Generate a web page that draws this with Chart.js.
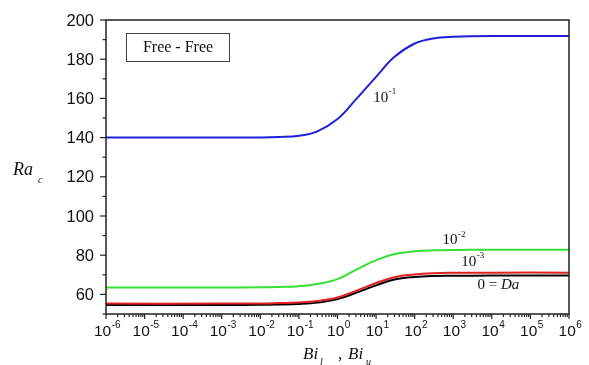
<!DOCTYPE html>
<html>
<head>
<meta charset="utf-8">
<script src="https://cdn.jsdelivr.net/npm/chart.js@4"></script>
<style>
  html, body { margin: 0; padding: 0; background: #ffffff; }
  canvas { display: block; }
</style>
</head>
<body>
<canvas id="chart" width="589" height="365"></canvas>
<script>
// Biot number samples (log-spaced) shared by every curve
const biValues = [1e-6, 1e-3, 1e-2, 0.03, 0.1, 0.3, 1, 3, 10, 30, 100, 300, 1e3, 1e4, 1e6];

// Critical Rayleigh number for each Darcy number
const raDa1e1 = [140.0, 140.0, 140.1, 140.3, 140.9, 143.2, 149.5, 159.5, 171.0, 181.2, 188.0, 190.6, 191.4, 191.8, 191.8];
const raDa1e2 = [63.5, 63.5, 63.6, 63.8, 64.2, 65.3, 67.8, 72.5, 77.5, 80.6, 82.0, 82.5, 82.7, 82.8, 82.8];
const raDa1e3 = [55.3, 55.3, 55.4, 55.6, 55.9, 56.6, 58.4, 61.8, 65.8, 68.8, 70.2, 70.8, 71.0, 71.1, 71.1];
const raDa0   = [54.6, 54.6, 54.7, 54.8, 55.1, 55.8, 57.6, 60.8, 64.6, 67.6, 68.9, 69.4, 69.5, 69.6, 69.6];

// Axis ticks
const xTickExponents = [-6, -5, -4, -3, -2, -1, 0, 1, 2, 3, 4, 5, 6];
const yTickLabels = [60, 80, 100, 120, 140, 160, 180, 200];
const yMinorTicks = [50, 70, 90, 110, 130, 150, 170, 190];

// Curve annotations: [Bi, Ra] anchor (left edge, vertical middle)
const curveNotes = [
  { base: '10', sup: '-1', at: [8.5, 160.4] },
  { base: '10', sup: '-2', at: [525, 87.6] },
  { base: '10', sup: '-3', at: [1620, 76.5] }
];
const zeroNote = { at: [4270, 64.6] };

const toPoints = ys => biValues.map((b, i) => ({ x: b, y: ys[i] }));

const SANS = '"Liberation Sans", Arial, sans-serif';
const SERIF = '"Liberation Serif", "Times New Roman", serif';

const decorations = {
  id: 'decorations',
  afterDatasetsDraw(chart) {
    const { ctx, chartArea: a, scales } = chart;
    const xs = scales.x, ys = scales.y;
    ctx.save();

    // frame
    ctx.strokeStyle = '#222';
    ctx.lineWidth = 1.5;
    ctx.strokeRect(a.left, a.top, a.right - a.left, a.bottom - a.top);

    // y ticks + labels
    ctx.lineWidth = 1.2;
    ctx.fillStyle = '#111';
    ctx.font = '16.5px ' + SANS;
    ctx.textAlign = 'right';
    ctx.textBaseline = 'middle';
    yTickLabels.forEach(v => {
      const y = ys.getPixelForValue(v);
      ctx.beginPath(); ctx.moveTo(a.left - 6, y); ctx.lineTo(a.left, y); ctx.stroke();
      ctx.fillText(String(v), a.left - 12, y + 1);
    });
    yMinorTicks.forEach(v => {
      const y = ys.getPixelForValue(v);
      ctx.beginPath(); ctx.moveTo(a.left - 3.5, y); ctx.lineTo(a.left, y); ctx.stroke();
    });

    // x ticks + labels
    xTickExponents.forEach(e => {
      const x = xs.getPixelForValue(Math.pow(10, e));
      ctx.beginPath(); ctx.moveTo(x, a.bottom); ctx.lineTo(x, a.bottom + 5); ctx.stroke();
      if (e < 6) {
        for (let k = 2; k <= 9; k++) {
          const xm = xs.getPixelForValue(k * Math.pow(10, e));
          ctx.beginPath(); ctx.moveTo(xm, a.bottom); ctx.lineTo(xm, a.bottom + 3); ctx.stroke();
        }
      }
      ctx.font = '15.5px ' + SANS;
      const wb = ctx.measureText('10').width;
      ctx.font = '10px ' + SANS;
      const sup = String(e);
      const ws = ctx.measureText(sup).width;
      const x0 = x - (wb + ws) / 2 + 1;
      ctx.textAlign = 'left';
      ctx.textBaseline = 'alphabetic';
      ctx.font = '15.5px ' + SANS;
      ctx.fillText('10', x0, a.bottom + 22);
      ctx.font = '10px ' + SANS;
      ctx.fillText(sup, x0 + wb + 0.5, a.bottom + 14);
    });

    // axis titles
    ctx.fillStyle = '#111';
    ctx.textAlign = 'left';
    ctx.textBaseline = 'alphabetic';
    ctx.font = 'italic 18px ' + SERIF;
    ctx.fillText('Ra', 13, 175);
    ctx.font = 'italic 10px ' + SERIF;
    ctx.fillText('c', 38, 183);

    ctx.font = 'italic 17px ' + SERIF;
    ctx.fillText('Bi', 303, 359);
    ctx.font = 'italic 10px ' + SERIF;
    ctx.fillText('l', 320, 365);
    ctx.font = '17px ' + SERIF;
    ctx.fillText(',', 338, 359);
    ctx.font = 'italic 17px ' + SERIF;
    ctx.fillText('Bi', 348, 359);
    ctx.font = 'italic 10px ' + SERIF;
    ctx.fillText('u', 366, 365);

    // boundary condition box
    ctx.strokeStyle = '#444';
    ctx.lineWidth = 1;
    ctx.strokeRect(126.5, 33.5, 103, 28);
    ctx.font = '16px ' + SERIF;
    ctx.textAlign = 'center';
    ctx.textBaseline = 'middle';
    ctx.fillText('Free - Free', 178, 48);

    // curve labels
    ctx.textAlign = 'left';
    ctx.textBaseline = 'middle';
    curveNotes.forEach(n => {
      const x = xs.getPixelForValue(n.at[0]);
      const y = ys.getPixelForValue(n.at[1]);
      ctx.font = '15px ' + SERIF;
      ctx.fillText(n.base, x, y);
      const w = ctx.measureText(n.base).width;
      ctx.font = '9px ' + SERIF;
      ctx.fillText(n.sup, x + w + 0.5, y - 6);
    });
    {
      const x = xs.getPixelForValue(zeroNote.at[0]);
      const y = ys.getPixelForValue(zeroNote.at[1]);
      ctx.font = '15px ' + SERIF;
      ctx.fillText('0 = ', x, y);
      const w = ctx.measureText('0 = ').width;
      ctx.font = 'italic 15px ' + SERIF;
      ctx.fillText('Da', x + w, y);
    }
    ctx.restore();
  }
};

const lineStyle = (color) => ({
  borderColor: color,
  backgroundColor: color,
  borderWidth: 2,
  pointRadius: 0,
  fill: false,
  tension: 0.4
});

new Chart(document.getElementById('chart'), {
  type: 'line',
  data: {
    datasets: [
      { label: 'Da = 10^-1', data: toPoints(raDa1e1), ...lineStyle('#2020d8') },
      { label: 'Da = 10^-2', data: toPoints(raDa1e2), ...lineStyle('#33e033') },
      { label: 'Da = 10^-3', data: toPoints(raDa1e3), ...lineStyle('#e02020') },
      { label: 'Da = 0', data: toPoints(raDa0), ...lineStyle('#000000') }
    ]
  },
  options: {
    responsive: false,
    animation: false,
    devicePixelRatio: 1,
    layout: { padding: { left: 106, right: 20, top: 20, bottom: 51 } },
    plugins: { legend: { display: false }, tooltip: { enabled: false } },
    scales: {
      x: { type: 'logarithmic', min: 1e-6, max: 1e6, display: false },
      y: { type: 'linear', min: 50, max: 200, display: false }
    }
  },
  plugins: [decorations]
});
</script>
</body>
</html>
